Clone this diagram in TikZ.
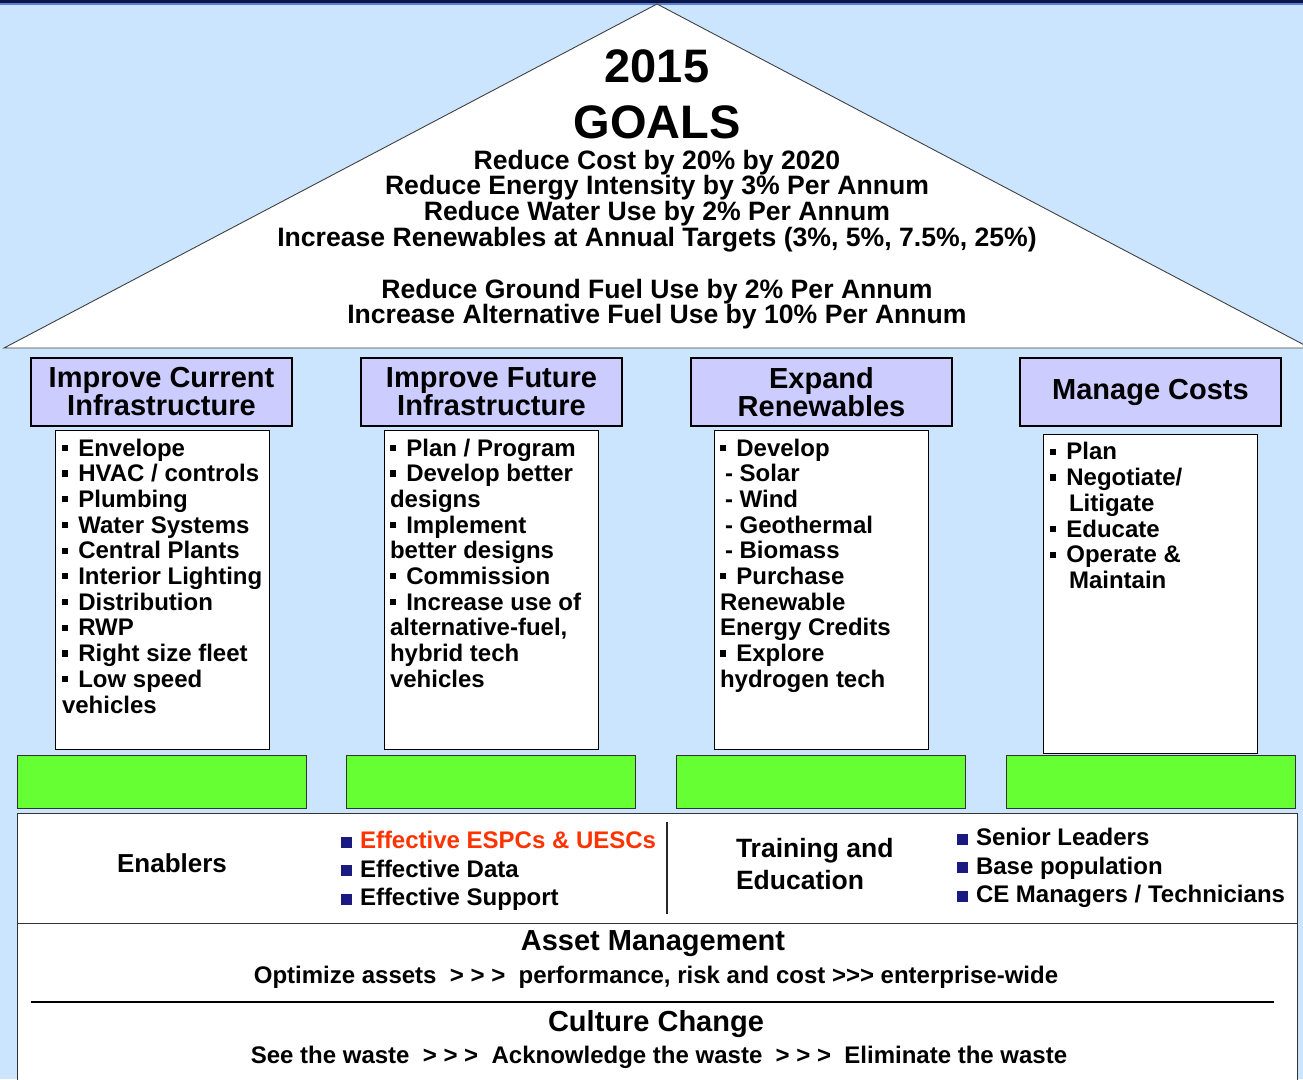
\documentclass[tikz,border=0pt]{standalone}
\usepackage{fontspec}
\setmainfont{Liberation Sans}
\definecolor{bgblue}{RGB}{204,229,255}
\definecolor{hdrfill}{RGB}{204,204,255}
\definecolor{pgreen}{RGB}{102,255,51}
\definecolor{ered}{RGB}{255,51,0}
\definecolor{bnavy}{RGB}{26,26,128}
\definecolor{topnavy}{RGB}{12,22,70}
\definecolor{topblue}{RGB}{90,130,210}
\newcommand\myfs[2]{\fontsize{#1}{#2}\selectfont\lineskiplimit=-20pt\relax}
\newcommand\lb{\rule[0.21em]{0.26em}{0.26em}\hspace{0.42em}}
\newcommand\nb{\textcolor{bnavy}{\rule[1pt]{11pt}{11pt}}\hspace{8pt}}
\begin{document}
\begin{tikzpicture}[x=1pt,y=-1pt,
  every node/.style={inner sep=0pt, outer sep=0pt, font=\bfseries},
  hdr/.style={draw=black, fill=hdrfill, line width=1.2pt, minimum width=261pt, minimum height=68pt, anchor=north west, align=center, font=\bfseries\myfs{29}{28}},
  listbox/.style={draw=black, fill=white, line width=0.9pt, minimum width=214pt, minimum height=319pt, anchor=north west},
  listtxt/.style={anchor=north west, align=left, font=\bfseries\myfs{24}{25.7}},
  greenbox/.style={draw=black!80, fill=pgreen, line width=0.9pt, minimum width=289pt, minimum height=53pt, anchor=north west},
  panel/.style={draw=black!80, fill=white, line width=1pt, anchor=north west},
  enl/.style={anchor=north west, align=left, font=\bfseries\myfs{24}{28.5}}
]
\useasboundingbox (0,0) rectangle (1303,1079);
\fill[bgblue] (0,0) rectangle (1303,1079);
\fill[topnavy] (0,0) rectangle (1303,2.5);
\fill[topblue] (0,2.5) rectangle (1303,5);

% roof
\draw[fill=white, draw=black!75, line width=0.9pt] (4,348) -- (657,4) -- (1310,348) -- cycle;
\node[anchor=base, font=\bfseries\myfs{47}{56}] (yr) at (657,82) {2015};
\node[anchor=base, font=\bfseries\myfs{47}{56}] (goals) at (657,138) {GOALS};
\node[anchor=north, align=center, font=\bfseries\myfs{26.6}{25.8}] (glist) at (657,149.9)
 {\strut Reduce Cost by 20\% by 2020\\
  Reduce Energy Intensity by 3\% Per Annum\\
  Reduce Water Use by 2\% Per Annum\\
  Increase Renewables at Annual Targets (3\%, 5\%, 7.5\%, 25\%)\\[25.8pt]
  Reduce Ground Fuel Use by 2\% Per Annum\\
  Increase Alternative Fuel Use by 10\% Per Annum};

% headers
\node[hdr] (h1) at (31,358) {Improve Current\\Infrastructure};
\node[hdr] (h2) at (361,358) {Improve Future\\Infrastructure};
\node[hdr] (h3) at (691,358) {Expand\\Renewables};
\node[hdr] (h4) at (1020,358) {Manage Costs};

% list boxes
\node[listbox] (b1) at (55,430) {};
\node[listbox] (b2) at (384,430) {};
\node[listbox] (b3) at (714,430) {};
\node[listbox] (b4) at (1043,434) {};

\node[listtxt] (t1) at (62,438) {\strut\lb Envelope\\ \lb HVAC / controls\\ \lb Plumbing\\ \lb Water Systems\\ \lb Central Plants\\ \lb Interior Lighting\\ \lb Distribution\\ \lb RWP\\ \lb Right size fleet\\ \lb Low speed\\vehicles};
\node[listtxt] (t2) at (390,438) {\strut\lb Plan / Program\\ \lb Develop better\\designs\\ \lb Implement\\better designs\\ \lb Commission\\ \lb Increase use of\\alternative-fuel,\\hybrid tech\\vehicles};
\node[listtxt] (t3) at (720,438) {\strut\lb Develop\\ \hspace{5pt}- Solar\\ \hspace{5pt}- Wind\\ \hspace{5pt}- Geothermal\\ \hspace{5pt}- Biomass\\ \lb Purchase\\Renewable\\Energy Credits\\ \lb Explore\\hydrogen tech};
\node[listtxt] (t4) at (1050,442) {\strut\lb Plan\\ \lb Negotiate/\\ \hspace{19pt}Litigate\\ \lb Educate\\ \lb Operate \&\\ \hspace{19pt}Maintain};

% green bars
\node[greenbox] (g1) at (17,755) {};
\node[greenbox] (g2) at (346,755) {};
\node[greenbox] (g3) at (676,755) {};
\node[greenbox] (g4) at (1006,755) {};

% enablers panel
\node[panel, minimum width=1280pt, minimum height=110pt] (en) at (17,813) {};
\node[anchor=base, font=\bfseries\myfs{26}{30}] (enl) at (172,872) {Enablers};
\node[enl] (enlist) at (341,829) {\strut\nb\textcolor{ered}{Effective ESPCs \& UESCs}\\ \nb Effective Data\\ \nb Effective Support};
\draw[line width=1.6pt, black!85] (667,822) -- (667,914);
\node[anchor=north west, align=left, font=\bfseries\myfs{26.5}{32}] (tre) at (736,834.6) {\strut Training and\\Education};
\node[enl] (trlist) at (957,826) {\strut\nb Senior Leaders\\ \nb Base population\\ \nb CE Managers / Technicians};

% bottom panel
\node[panel, minimum width=1280pt, minimum height=170pt] (bot) at (17,923) {};
\node[anchor=base, font=\bfseries\myfs{29}{32}] (am) at (653,950) {Asset Management};
\node[anchor=base, font=\bfseries\myfs{24}{26}] (amt) at (656,983) {Optimize assets \ > > > \ performance, risk and cost >{}>{}> enterprise-wide};
\draw[line width=2.5pt] (31,1002) -- (1274,1002);
\node[anchor=base, font=\bfseries\myfs{29}{32}] (cc) at (656,1031) {Culture Change};
\node[anchor=base, font=\bfseries\myfs{24}{26}] (cct) at (659,1063) {See the waste \ > > > \ Acknowledge the waste \ > > > \ Eliminate the waste};
\end{tikzpicture}
\end{document}
